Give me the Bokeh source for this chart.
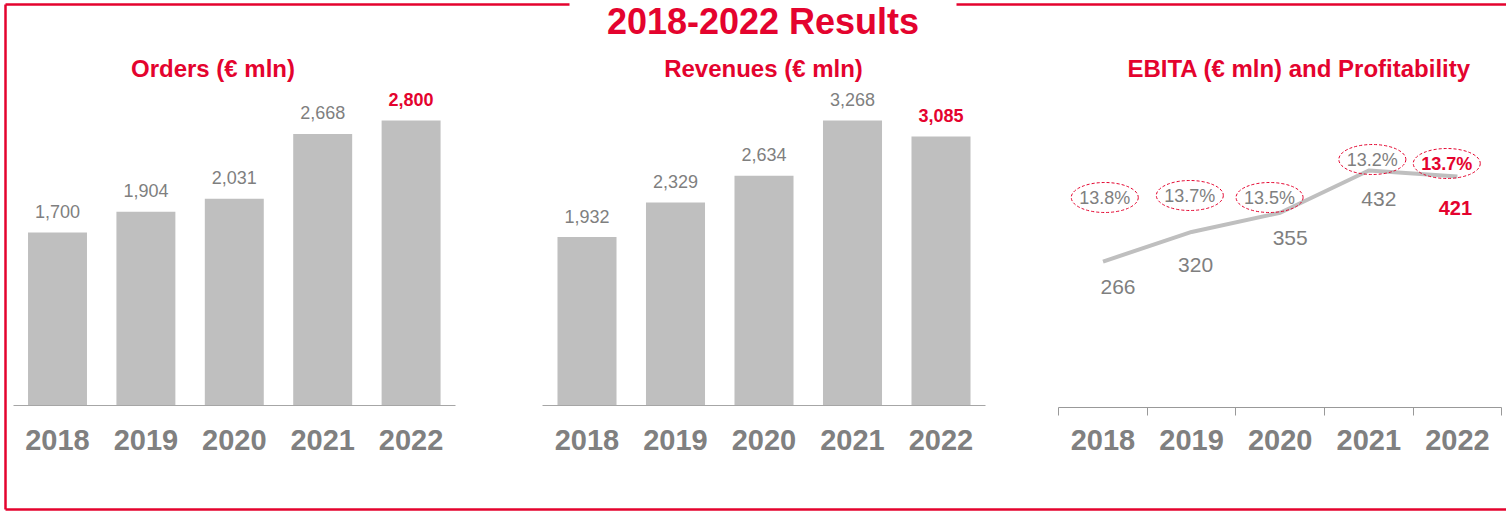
import numpy as np
from bokeh.plotting import figure
from bokeh.models import Range1d, ColumnDataSource, LinearAxis, FixedTicker
from bokeh.core.properties import value
from bokeh.embed import file_html
from bokeh.resources import INLINE

# ---------------- data ----------------
years = ["2018", "2019", "2020", "2021", "2022"]
orders = [1700, 1904, 2031, 2668, 2800]
revenues = [1932, 2329, 2634, 3268, 3085]
ebita = [266, 320, 355, 432, 421]
profitability = [13.8, 13.7, 13.5, 13.2, 13.7]

main_title = "2018-2022 Results"
panel_titles = ["Orders (€ mln)", "Revenues (€ mln)", "EBITA (€ mln) and Profitability"]

# ---------------- style / layout ----------------
RED = "#e4032e"
GRAY_BAR = "#bfbfbf"
GRAY_TXT = "#7f7f7f"
AXIS_COL = "#a6a6a6"
FONT = value("Liberation Sans")

REF_W, REF_H = 1506, 511      # layout space (pixels of the design)
W, H = 1506, 511               # figure size on the page

idx = np.arange(len(years))
n = len(years)
hl_color = [GRAY_TXT] * (n - 1) + [RED]
hl_style = ["normal"] * (n - 1) + ["bold"]

p = figure(width=W, height=H, x_range=Range1d(0, REF_W), y_range=Range1d(REF_H, 0),
           output_backend="svg", toolbar_location=None, min_border=0,
           x_axis_location=None, y_axis_location=None, outline_line_color=None,
           background_fill_color="white", border_fill_color="white")
p.grid.visible = False

# panel placement: (first category center, step, baseline y, reference y for scale, reference value)
panels = {
    "orders": (57.0, 88.4, 405.0, 120.0, max(orders)),
    "revenues": (586.5, 88.5, 405.0, 120.0, max(revenues)),
    "ebita": (1102.5, 88.6, 407.0, 170.0, max(ebita)),
}
xr, yr = {}, {}
for name, (c0, step, base, ytop, vtop) in panels.items():
    s = (base - ytop) / vtop
    xr[name] = Range1d(-c0 / step, (REF_W - c0) / step)
    yr[name] = Range1d(-(REF_H - base) / s, base / s)
p.extra_x_ranges = xr
p.extra_y_ranges = yr


def year_axis(name, boundary_ticks=False):
    ticker = FixedTicker(ticks=list(idx))
    if boundary_ticks:
        ticker = FixedTicker(ticks=list(idx), minor_ticks=[i - 0.5 for i in range(n + 1)])
    ax = LinearAxis(x_range_name=name, y_range_name=name, fixed_location=0,
                    bounds=(-0.5, n - 0.5), ticker=ticker,
                    major_label_overrides={int(i): y for i, y in zip(idx, years)},
                    major_tick_out=0, major_tick_in=0,
                    minor_tick_out=8 if boundary_ticks else 0, minor_tick_in=0,
                    minor_tick_line_color="#999999",
                    axis_line_color="#999999" if boundary_ticks else AXIS_COL,
                    axis_line_width=1,
                    major_label_text_font_size="29px",
                    major_label_text_font_style="bold",
                    major_label_text_color="#808080",
                    major_label_text_font="Liberation Sans",
                    major_label_standoff=14 if boundary_ticks else 24)
    p.add_layout(ax, "below")


# ---------------- bar panels ----------------
for name, vals in (("orders", orders), ("revenues", revenues)):
    src = ColumnDataSource(dict(x=idx, top=vals, label=[f"{v:,}" for v in vals],
                                color=hl_color, style=hl_style))
    p.vbar(x="x", top="top", width=0.667, source=src, x_range_name=name, y_range_name=name,
           fill_color=GRAY_BAR, line_color=None)
    p.text(x="x", y="top", text="label", source=src, x_range_name=name, y_range_name=name,
           text_align="center", text_baseline="middle", y_offset=-21,
           text_color="color", text_font_style="style", text_font_size="18px", text_font=FONT)
    year_axis(name)

# ---------------- EBITA panel ----------------
ebita_dx = [15, 4, 10, 10, -2]        # label nudges (screen px)
ebita_dy = [25, 33, 25, 28, 31]
src_e = ColumnDataSource(dict(x=idx, y=ebita, label=[str(v) for v in ebita],
                              color=hl_color, style=hl_style, dx=ebita_dx, dy=ebita_dy,
                              size=["21px"] * (n - 1) + ["20px"]))
p.line(x="x", y="y", source=src_e, x_range_name="ebita", y_range_name="ebita",
       line_color=GRAY_BAR, line_width=4, line_join="round")
p.text(x="x", y="y", text="label", source=src_e, x_range_name="ebita", y_range_name="ebita",
       x_offset="dx", y_offset="dy", text_align="center", text_baseline="middle",
       text_color="color", text_font_style="style", text_font_size="size", text_font=FONT)
year_axis("ebita", boundary_ticks=True)

# profitability bubbles (row positions in layout space)
pct_dx = [0.02, -0.02, -0.12, 0.04, -0.12]
pct_row_y = [197, 195, 197, 159, 163]
src_p = ColumnDataSource(dict(x=idx + np.array(pct_dx), y=pct_row_y,
                              label=[f"{v:.1f}%" for v in profitability],
                              color=hl_color, style=hl_style))
p.ellipse(x="x", y="y", width=67, height=30, width_units="screen", height_units="screen",
          source=src_p, x_range_name="ebita", fill_color=None, line_color=RED,
          line_dash="3 2", line_width=1)
p.text(x="x", y="y", text="label", source=src_p, x_range_name="ebita",
       text_align="center", text_baseline="middle", text_color="color",
       text_font_style="style", text_font_size="18px", text_font=FONT)

# ---------------- frame and titles ----------------
p.segment(x0=[5, 5, 956, 5], y0=[4, 4, 4, 509], x1=[5, 569, REF_W, REF_W], y1=[509, 4, 4, 509],
          line_color=RED, line_width=2.5)
p.text(x=[762.5], y=[21], text=[main_title], text_align="center", text_baseline="middle",
       text_color=RED, text_font_style="bold", text_font_size="36px", text_font=FONT)
p.text(x=[212.5, 763, 1298.7], y=[67.5, 67.5, 67.5], text=panel_titles, text_align="center",
       text_baseline="middle", text_color=RED, text_font_style="bold",
       text_font_size="24px", text_font=FONT)

open("out.html", "w").write(file_html(p, INLINE))
